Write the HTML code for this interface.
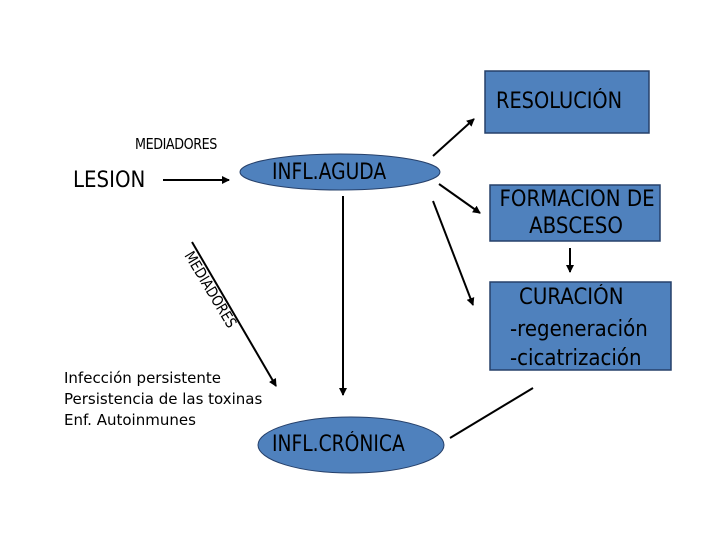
<!DOCTYPE html>
<html><head><meta charset="utf-8"><style>
html,body{margin:0;padding:0;background:#fff;}
body{width:720px;height:540px;position:relative;overflow:hidden;font-family:"DejaVu Sans","Liberation Sans",sans-serif;}
.t{position:absolute;white-space:nowrap;color:#000;}
</style></head><body>
<svg width="720" height="540" style="position:absolute;left:0;top:0">
<defs><marker id="a" markerWidth="8" markerHeight="8" refX="7" refY="4" orient="auto" markerUnits="userSpaceOnUse"><path d="M0,0 L8,4 L0,8 z" fill="#000"/></marker></defs>
<rect x="485" y="71" width="164" height="62" fill="#4f81bd" stroke="#26406a" stroke-width="1.5"/>
<rect x="490" y="185" width="170" height="56" fill="#4f81bd" stroke="#26406a" stroke-width="1.5"/>
<rect x="490" y="282" width="181" height="88" fill="#4f81bd" stroke="#26406a" stroke-width="1.5"/>
<ellipse cx="340" cy="172" rx="100" ry="18" fill="#4f81bd" stroke="#26406a" stroke-width="1"/>
<ellipse cx="351" cy="445" rx="93" ry="28" fill="#4f81bd" stroke="#26406a" stroke-width="1"/>
<g stroke="#000" stroke-width="2" fill="none" marker-end="url(#a)">
<line x1="163" y1="180" x2="229" y2="180"/>
<line x1="433" y1="156" x2="474" y2="119"/>
<line x1="439" y1="184" x2="480" y2="213"/>
<line x1="433" y1="201" x2="473" y2="305"/>
<line x1="343" y1="196" x2="343" y2="395"/>
<line x1="192" y1="242" x2="276" y2="386"/>
<line x1="570" y1="248" x2="570" y2="272"/>
</g>
<line x1="450" y1="438" x2="533" y2="388" stroke="#000" stroke-width="2"/>
</svg>
<div class="t" style="left:135px;top:135px;font-size:15px;transform:scaleX(0.85);transform-origin:left;letter-spacing:-0.5px">MEDIADORES</div>
<div class="t" style="left:73px;top:168px;font-size:22px;transform:scaleX(0.9);transform-origin:left">LESION</div>
<div class="t" style="left:272px;top:160px;font-size:22px;transform:scaleX(0.85);transform-origin:left">INFL.AGUDA</div>
<div class="t" style="left:496px;top:89px;font-size:22px;transform:scaleX(0.88);transform-origin:left">RESOLUCIÓN</div>
<div class="t" style="left:491px;top:186px;width:170px;text-align:center;font-size:22px;line-height:27px;transform:scaleX(0.9);">FORMACION DE<br>ABSCESO</div>
<div class="t" style="left:519px;top:285px;font-size:22px;transform:scaleX(0.9);transform-origin:left">CURACIÓN</div>
<div class="t" style="left:510px;top:315px;font-size:22px;line-height:29px;transform:scaleX(0.9);transform-origin:left">-regeneración<br>-cicatrización</div>
<div class="t" style="left:272px;top:432px;font-size:22px;transform:scaleX(0.85);transform-origin:left">INFL.CRÓNICA</div>
<div class="t" style="left:64px;top:368px;font-size:15px;line-height:21px;">Infección persistente<br>Persistencia de las toxinas<br>Enf. Autoinmunes</div>
<div class="t" style="left:196px;top:248px;font-size:15px;transform:rotate(59deg) scaleX(0.85);transform-origin:left top;">MEDIADORES</div>
</body></html>
